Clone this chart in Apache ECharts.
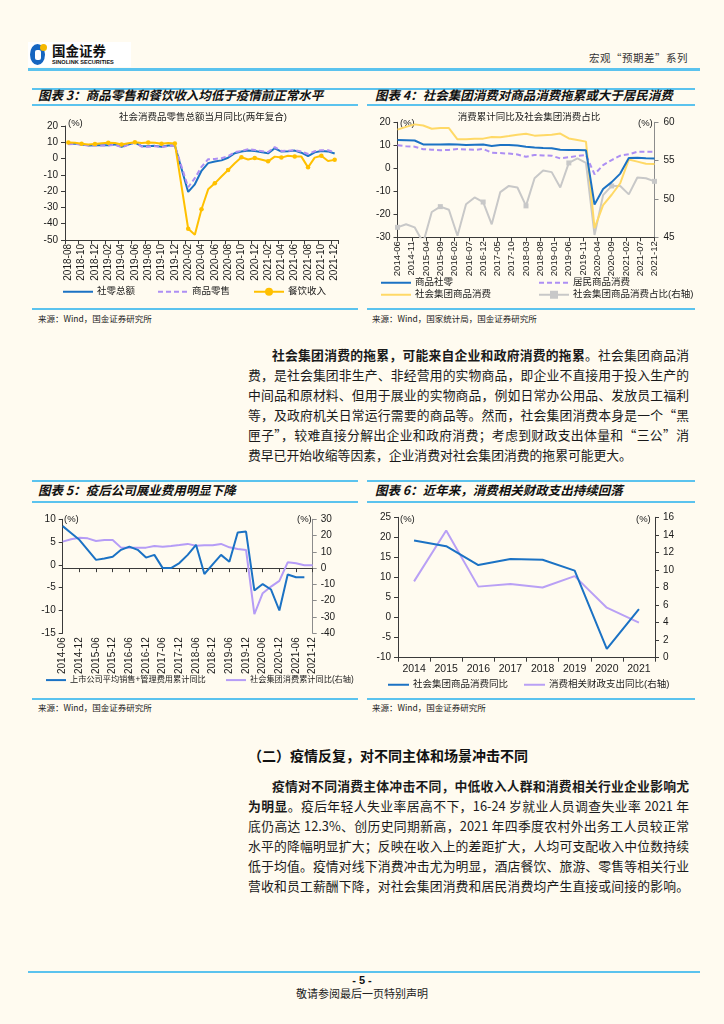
<!DOCTYPE html>
<html><head><meta charset="utf-8">
<script src="https://cdn.jsdelivr.net/npm/echarts@6/dist/echarts.min.js"></script>
<style>
html,body{margin:0;padding:0;}
body{width:724px;height:1024px;background:#FFFBF0;position:relative;overflow:hidden;font-family:"Noto Sans CJK SC","Noto Sans",sans-serif;color:#111;}
.a{position:absolute;}
.bl{position:absolute;background:#5BC3EE;}
.ct{position:absolute;font-size:12.5px;font-weight:bold;font-style:italic;white-space:nowrap;line-height:16px;color:#111;}
.src{position:absolute;font-size:8.5px;white-space:nowrap;line-height:12px;color:#222;}
.ln{position:absolute;left:248px;width:441px;font-size:12.8px;line-height:20px;height:20px;text-align:justify;text-align-last:justify;color:#1a1a1a;}
.chart{position:absolute;}
</style></head>
<body>
<!-- header -->
<div class="a" style="left:28px;top:42px;width:103px;height:25px;background:#fff;"></div>
<div class="a" style="left:30px;top:44px;width:15px;height:21px;border-radius:50%;background:#1565C0;"></div>
<div class="a" style="left:35px;top:50px;width:6px;height:10px;border-radius:2px;background:#fff;"></div>
<div class="a" style="left:40px;top:44px;width:7px;height:7px;border-radius:50%;background:#F5B800;"></div>
<div class="a" style="left:52px;top:41px;font-size:13.5px;font-weight:bold;line-height:18px;color:#111;">国金证券</div>
<div class="a" style="left:52px;top:58px;font-size:5.6px;font-weight:bold;line-height:8px;color:#111;font-family:'Liberation Sans',sans-serif;white-space:nowrap;">SINOLINK SECURITIES</div>
<div class="a" style="left:589px;top:51px;font-size:10.5px;line-height:14px;color:#333;white-space:nowrap;letter-spacing:0.5px;">宏观“预期差”系列</div>
<div class="bl" style="left:28px;top:68px;width:672px;height:2.5px;"></div>

<!-- row 1 frames -->
<div class="bl" style="left:32px;top:88px;width:663px;height:1.5px;"></div>
<div class="ct" style="left:38px;top:87px;">图表 3：商品零售和餐饮收入均低于疫情前正常水平</div>
<div class="ct" style="left:375px;top:87px;">图表 4：社会集团消费对商品消费拖累或大于居民消费</div>
<div class="bl" style="left:32px;top:104px;width:326px;height:1.5px;"></div>
<div class="bl" style="left:367px;top:104px;width:328px;height:1.5px;"></div>
<div class="bl" style="left:32px;top:308px;width:326px;height:1.5px;"></div>
<div class="bl" style="left:367px;top:308px;width:328px;height:1.5px;"></div>
<div class="src" style="left:38px;top:312px;">来源：Wind，国金证券研究所</div>
<div class="src" style="left:372px;top:312px;">来源：Wind，国家统计局，国金证券研究所</div>

<div id="c3" class="chart" style="left:30px;top:106px;width:330px;height:200px;"></div>
<div id="c4" class="chart" style="left:365px;top:106px;width:330px;height:200px;"></div>

<!-- paragraph 1 -->
<div class="ln" style="top:345px;left:272px;width:417px;"><b>社会集团消费的拖累，可能来自企业和政府消费的拖累</b>。社会集团商品消</div>
<div class="ln" style="top:365px;">费，是社会集团非生产、非经营用的实物商品，即企业不直接用于投入生产的</div>
<div class="ln" style="top:385px;">中间品和原材料、但用于展业的实物商品，例如日常办公用品、发放员工福利</div>
<div class="ln" style="top:405px;">等，及政府机关日常运行需要的商品等。然而，社会集团消费本身是一个“黑</div>
<div class="ln" style="top:425px;">匣子”，较难直接分解出企业和政府消费；考虑到财政支出体量和“三公”消</div>
<div class="ln" style="top:445px;text-align:left;text-align-last:left;">费早已开始收缩等因素，企业消费对社会集团消费的拖累可能更大。</div>

<!-- row 2 frames -->
<div class="bl" style="left:32px;top:480px;width:326px;height:1.5px;"></div>
<div class="bl" style="left:367px;top:480px;width:328px;height:1.5px;"></div>
<div class="ct" style="left:38px;top:482px;">图表 5：疫后公司展业费用明显下降</div>
<div class="ct" style="left:375px;top:482px;">图表 6：近年来，消费相关财政支出持续回落</div>
<div class="bl" style="left:32px;top:501px;width:326px;height:1.5px;"></div>
<div class="bl" style="left:367px;top:501px;width:328px;height:1.5px;"></div>
<div class="bl" style="left:32px;top:698px;width:326px;height:1.5px;"></div>
<div class="bl" style="left:367px;top:698px;width:328px;height:1.5px;"></div>
<div class="src" style="left:38px;top:701px;">来源：Wind，国金证券研究所</div>
<div class="src" style="left:372px;top:701px;">来源：Wind，国金证券研究所</div>

<div id="c5" class="chart" style="left:30px;top:502px;width:330px;height:195px;"></div>
<div id="c6" class="chart" style="left:365px;top:502px;width:330px;height:195px;"></div>

<!-- section 2 -->
<div class="a" style="left:248px;top:745px;font-size:14px;font-weight:bold;line-height:20px;white-space:nowrap;color:#111;">（二）疫情反复，对不同主体和场景冲击不同</div>
<div class="ln" style="top:776px;left:272px;width:417px;"><b>疫情对不同消费主体冲击不同，中低收入人群和消费相关行业企业影响尤</b></div>
<div class="ln" style="top:796px;"><b>为明显</b>。疫后年轻人失业率居高不下，16-24 岁就业人员调查失业率 2021 年</div>
<div class="ln" style="top:816px;">底仍高达 12.3%、创历史同期新高，2021 年四季度农村外出务工人员较正常</div>
<div class="ln" style="top:836px;">水平的降幅明显扩大；反映在收入上的差距扩大，人均可支配收入中位数持续</div>
<div class="ln" style="top:856px;">低于均值。疫情对线下消费冲击尤为明显，酒店餐饮、旅游、零售等相关行业</div>
<div class="ln" style="top:876px;">营收和员工薪酬下降，对社会集团消费和居民消费均产生直接或间接的影响。</div>

<!-- footer -->
<div class="bl" style="left:28px;top:971px;width:672px;height:2px;"></div>
<div class="a" style="left:0;width:724px;top:973px;text-align:center;font-size:11px;font-weight:bold;line-height:14px;font-family:'Liberation Sans',sans-serif;">- 5 -</div>
<div class="a" style="left:0;width:724px;top:986px;text-align:center;font-size:11px;line-height:14px;color:#222;">敬请参阅最后一页特别声明</div>

<script>
// ---------------- DATA ----------------
function months(start, end){
  var out=[], p=start.split('-').map(Number), q=end.split('-').map(Number), y=p[0], m=p[1];
  while(y<q[0] || (y===q[0] && m<=q[1])){ out.push(y+'-'+(m<10?'0':'')+m); m++; if(m>12){m=1;y++;} }
  return out;
}
// Chart 3: monthly 2018-08 .. 2021-12 (2020-01, 2021-01 not published)
var c3Cats = months('2018-08','2021-12');
var c3Total = [9.0,9.2,8.6,8.1,8.2, 8.2,8.2,8.7,7.2,8.6,9.8,7.6,7.5,7.8,7.2,8.0,8.0, null,
  -20.5,-15.8,-7.5,-2.8,-1.8,-1.1,0.5,3.3,4.3,5.0,4.6, null,
  3.2,6.3,4.3,4.5,4.9,3.6,1.5,3.8,4.6,4.4,3.1];
var c3Goods = [8.8,9.0,8.5,8.1,8.1, 8.0,8.0,8.4,7.0,8.4,9.8,7.4,7.2,7.6,7.0,7.8,7.9, null,
  -17.6,-12.0,-5.1,-0.4,-0.2,0.2,1.5,3.9,4.7,5.8,5.2, null,
  4.0,7.0,4.7,4.8,5.2,4.3,2.8,4.5,5.1,5.1,3.8];
var c3Catering = [9.9,9.7,9.1,8.6,9.0, 9.4,9.7,9.6,8.6,9.4,10.0,9.5,9.8,9.7,9.1,9.6,9.3, null,
  -43.1,-46.8,-31.1,-18.9,-15.2,-11.0,-7.0,-2.9,0.8,-0.6,0.4, null,
  -1.7,1.2,0.6,1.7,1.2,1.2,-5.4,0.6,1.7,-1.5,-0.8];

// Chart 4: monthly axis 2014-06 .. 2021-12, values at quarter ends (2014-06, 2014-09, ...)
var c4Cats = months('2014-06','2021-12');
var c4Goods    = [12.3,12.2,12.1,10.4,10.3,10.3,10.5,10.3,10.1,10.2,10.3,9.7,10.1,10.1,9.9,9.4,9.0,8.8,8.7,8.1,8.0,8.0,7.8,-15.8,-9.0,-6.0,-2.3,4.5,4.6,4.4,4.3];
var c4Resident = [10.0,9.6,9.4,8.3,8.1,7.8,8.0,8.4,8.2,8.0,8.4,6.8,6.6,6.4,6.0,5.0,5.8,5.6,5.5,4.3,4.8,5.4,5.8,-2.6,1.4,3.6,5.5,6.1,7.2,7.2,7.2];
var c4Group    = [16.8,18.0,19.1,18.6,17.2,17.5,17.5,12.6,12.6,12.8,12.9,13.6,13.5,14.0,14.6,15.0,14.2,14.4,14.6,15.1,13.0,12.3,11.6,-26.0,-16.0,-11.5,-6.5,3.8,2.9,2.0,1.9];
var c4Share    = [46.3,46.7,46.3,44.3,48.3,49.0,48.6,45.2,49.3,50.2,49.6,46.7,50.9,51.7,51.5,49.1,52.7,53.7,53.5,51.5,54.7,55.3,54.7,45.3,50.5,51.7,51.7,50.6,52.8,52.7,52.3];

// Chart 5: monthly axis 2014-06 .. 2021-12, quarterly values
var c5Cats = months('2014-06','2021-12');
var c5Expense = [8.5,7.0,5.5,3.3,1.1,1.4,1.8,3.3,4.0,3.3,1.6,2.2,-0.7,-0.7,0.4,2.2,4.4,-2.0,0.1,2.2,0.7,7.1,7.3,-5.6,-4.2,-5.4,-10.0,-2.1,-2.7,-2.7];
var c5Group   = [16.3,17.7,18.7,18.3,16.7,17.3,17.3,12.6,12.6,12.6,12.6,13.6,13.2,13.6,14.2,14.9,13.8,14.0,14.0,14.9,12.8,11.8,11.2,-28.3,-15.4,-11.3,-7.8,3.6,3.0,1.8,1.8];

// Chart 6: yearly
var c6Years  = ['2014','2015','2016','2017','2018','2019','2020','2021'];
var c6Group  = [19.2,17.8,13.1,14.6,14.4,11.7,-7.8,2.1];
var c6Fiscal = [8.7,14.5,8.1,8.4,8.0,9.3,5.7,4.0];

// place quarterly values on the monthly category axis
function onMonthly(values, cats){
  var a = cats.map(function(){return null;});
  values.forEach(function(v,i){ a[i*3] = v; });
  return a;
}

// ---------------- STYLE HELPERS ----------------
var FONT = '"Liberation Sans","Noto Sans CJK SC",sans-serif';
var AX = '#3a3a3a';
var LBL = '#1a1a1a';
var BLUE = '#1B72C4', PURPLE = '#AD8FF3', YELLOW = '#FFC000', LYELLOW = '#FFD966', GRAY = '#C8C8C8';

function lg(name, left, top, w, hasSymbol, fs){
  var item = hasSymbol ? {name:name} : {name:name, itemStyle:{opacity:0}};
  return {data:[item], left:left, top:top, itemWidth:w||30, itemHeight:10, itemGap:0, padding:0,
    selectedMode:false, textStyle:{fontSize:fs||9.5, color:LBL, fontFamily:FONT, padding:[0,0,0,-1]}};
}
function txt(t, x, y, align){
  return {type:'text', style:{text:t, x:x, y:y, align:align||'left', verticalAlign:'middle',
    fontSize:9.5, fill:LBL, fontFamily:FONT}};
}
function labelAxis(cats, interval, rotate, boundaryGap, fs, margin){
  return {type:'category', data:cats, boundaryGap:boundaryGap, axisLine:{show:false}, axisTick:{show:false},
    axisLabel:{interval:interval, rotate:rotate, fontSize:fs, color:LBL, margin:margin, fontFamily:FONT}};
}
function zeroAxis(cats, interval, boundaryGap){
  return {type:'category', data:cats, boundaryGap:boundaryGap, position:'bottom',
    axisLine:{onZero:true, lineStyle:{color:AX, width:1}},
    axisTick:{show:true, interval:interval, length:4, lineStyle:{color:AX}}, axisLabel:{show:false}};
}
function valAxis(min, max, interval, pos, color, margin){
  return {type:'value', min:min, max:max, interval:interval, position:pos,
    axisLine:{show:true, onZero:false, lineStyle:{color:color||AX, width:1}},
    axisTick:{show:true, length:4, lineStyle:{color:color||AX}},
    splitLine:{show:false},
    axisLabel:{fontSize:10, color:LBL, margin:margin||7, fontFamily:FONT}};
}
function line(name, data, color, opts){
  var s = {name:name, type:'line', data:data, connectNulls:true, symbol:'none', smooth:false,
    lineStyle:{color:color, width:2}, itemStyle:{color:color}, z:2};
  for (var k in opts) s[k]=opts[k];
  return s;
}

// ---------------- CHART 3 ----------------
var ch3 = echarts.init(document.getElementById('c3'));
ch3.setOption({
  animation:false, textStyle:{fontFamily:FONT},
  grid:{left:35, top:20, width:273, height:114, outerBoundsMode:'none'},
  graphic:[ txt('社会消费品零售总额当月同比(两年复合)', 173, 11, 'center'), txt('(%)', 38, 17) ],
  legend:[ lg('社零总额', 32, 181), lg('商品零售', 127, 181), lg('餐饮收入', 223, 181, 30, true) ],
  xAxis:[ labelAxis(c3Cats, 1, 90, true, 10, 4), zeroAxis(c3Cats, 1, true) ],
  yAxis:[ valAxis(-50, 20, 10, 'left') ],
  series:[
    line('社零总额', c3Total, BLUE, {z:3}),
    line('商品零售', c3Goods, PURPLE, {lineStyle:{color:PURPLE, width:2, type:[5,3]}, z:4}),
    line('餐饮收入', c3Catering, YELLOW, {symbol:'circle', symbolSize:4.5, showSymbol:true, z:5})
  ]
});

// ---------------- CHART 4 ----------------
var ch4 = echarts.init(document.getElementById('c4'));
ch4.setOption({
  animation:false, textStyle:{fontFamily:FONT},
  grid:{left:32.5, top:16.3, width:257, height:115, outerBoundsMode:'none'},
  graphic:[ txt('消费累计同比及社会集团消费占比', 164, 11, 'center'), txt('(%)', 35, 17), txt('(%)', 273, 17) ],
  legend:[ lg('商品社零', 15, 172), lg('居民商品消费', 173, 172), lg('社会集团商品消费', 15, 184), lg('社会集团商品消费占比(右轴)', 173, 184, 30, true) ],
  xAxis:[ labelAxis(c4Cats, 4, 90, false, 9.5, 4), zeroAxis(c4Cats, 4, false) ],
  yAxis:[ valAxis(-30, 20, 10, 'left'), valAxis(45, 60, 5, 'right', '#8C8C8C', 9) ],
  series:[
    line('社会集团商品消费占比(右轴)', onMonthly(c4Share, c4Cats), GRAY, {yAxisIndex:1, symbol:'rect', symbolSize:5, showSymbol:true, z:1}),
    line('社会集团商品消费', onMonthly(c4Group, c4Cats), LYELLOW, {z:2}),
    line('居民商品消费', onMonthly(c4Resident, c4Cats), PURPLE, {lineStyle:{color:PURPLE, width:2, type:[5,3]}, z:3}),
    line('商品社零', onMonthly(c4Goods, c4Cats), BLUE, {z:4})
  ]
});

// ---------------- CHART 5 ----------------
var ch5 = echarts.init(document.getElementById('c5'));
ch5.setOption({
  animation:false, textStyle:{fontFamily:FONT},
  grid:{left:32.7, top:17.3, width:250, height:114, outerBoundsMode:'none'},
  graphic:[ txt('(%)', 34, 17), txt('(%)', 267, 17) ],
  legend:[ lg('上市公司平均销售+管理费用累计同比', 15, 174, 20, false, 8.2), lg('社会集团消费累计同比(右轴)', 195, 174, 20, false, 8.2) ],
  xAxis:[ labelAxis(c5Cats, 5, 90, false, 10, 4), zeroAxis(c5Cats, 5, false) ],
  yAxis:[ valAxis(-15, 10, 5, 'left'), valAxis(-40, 30, 10, 'right', '#8C8C8C', 8) ],
  series:[
    line('社会集团消费累计同比(右轴)', onMonthly(c5Group, c5Cats), '#B59CF6', {yAxisIndex:1, z:2}),
    line('上市公司平均销售+管理费用累计同比', onMonthly(c5Expense, c5Cats), BLUE, {z:3})
  ]
});

// ---------------- CHART 6 ----------------
var ch6 = echarts.init(document.getElementById('c6'));
ch6.setOption({
  animation:false, textStyle:{fontFamily:FONT},
  grid:{left:33, top:15.3, width:257, height:140.4, outerBoundsMode:'none'},
  graphic:[ txt('(%)', 35, 17), txt('(%)', 271, 17) ],
  legend:[ lg('社会集团商品消费同比', 22, 178, 21), lg('消费相关财政支出同比(右轴)', 158, 178, 21) ],
  xAxis:[ labelAxis(c6Years, 0, 0, true, 10.5, 6), zeroAxis(c6Years, 0, true) ],
  yAxis:[ valAxis(-10, 25, 5, 'left'), valAxis(0, 16, 2, 'right', AX, 8) ],
  series:[
    line('消费相关财政支出同比(右轴)', c6Fiscal, '#B9A0F5', {yAxisIndex:1, z:2}),
    line('社会集团商品消费同比', c6Group, BLUE, {z:3})
  ]
});
</script>
</body></html>
